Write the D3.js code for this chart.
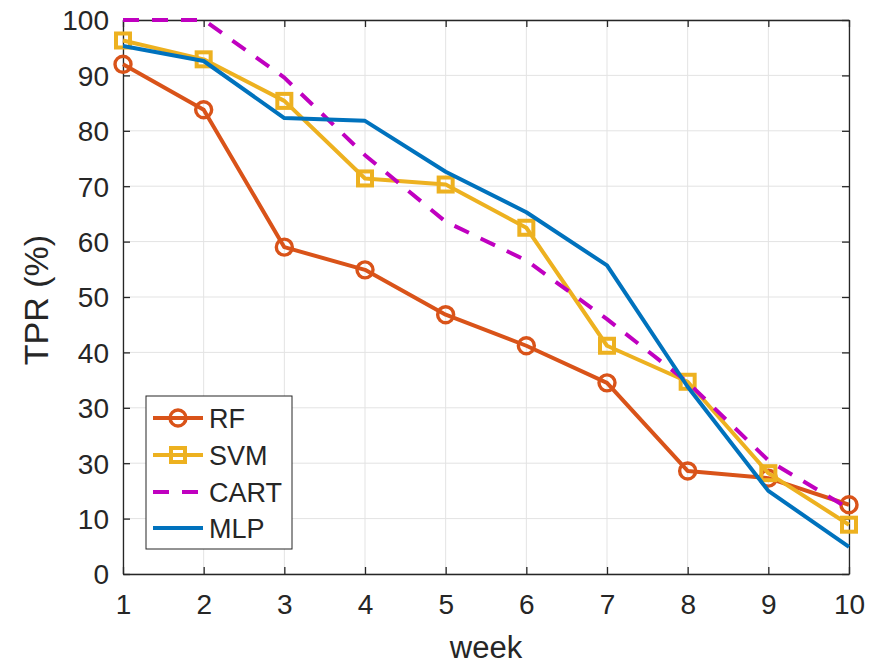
<!DOCTYPE html>
<html>
<head>
<meta charset="utf-8">
<script src="https://cdn.jsdelivr.net/npm/d3@7"></script>
<style>
  html, body { margin: 0; padding: 0; background: #fff; }
  svg { display: block; }
  text { font-family: "Liberation Sans", Arial, sans-serif; fill: #262626; }
</style>
</head>
<body>
<svg id="chart" width="873" height="664"></svg>
<script>
// ---- data ----
const weeks = [1, 2, 3, 4, 5, 6, 7, 8, 9, 10];
const rf   = [92.0, 83.8, 59.0, 54.9, 46.8, 41.2, 34.5, 18.6, 17.3, 12.5];
const svm  = [96.3, 92.9, 85.4, 71.4, 70.3, 62.5, 41.2, 34.7, 18.2, 8.9];
const cart = [100, 100, 89.6, 75.6, 63.6, 56.6, 46.0, 34.6, 20.5, 11.8];
const mlp  = [95.3, 92.6, 82.3, 81.8, 72.6, 65.3, 55.7, 33.8, 15.0, 4.9];
const seriesNames = ["RF", "SVM", "CART", "MLP"];
const seriesColors = ["#D95319", "#EDB120", "#C000C0", "#0072BD"];
const xTickValues = [1, 2, 3, 4, 5, 6, 7, 8, 9, 10];
const xTickLabels = ["1", "2", "3", "4", "5", "6", "7", "8", "9", "10"];
const yTickValues = [0, 10, 20, 30, 40, 50, 60, 70, 80, 90, 100];
const yTickLabels = ["0", "10", "30", "30", "40", "50", "60", "70", "80", "90", "100"];
const xLabel = "week";
const yLabel = "TPR (%)";

(function () {
// ---- layout ----
const svg = d3.select("#chart");
const pl = 123, pr = 849, pt = 20, pb = 574;
const x = d3.scaleLinear().domain([1, 10]).range([pl, pr]);
const y = d3.scaleLinear().domain([0, 100]).range([pb, pt]);
const axisColor = "#262626";

// grid
const grid = svg.append("g");
grid.selectAll("line.vg").data(xTickValues).join("line")
  .attr("x1", d => x(d)).attr("x2", d => x(d))
  .attr("y1", pt).attr("y2", pb)
  .attr("stroke", "#e3e3e3").attr("stroke-width", 1);
grid.selectAll("line.hg").data(yTickValues).join("line")
  .attr("x1", pl).attr("x2", pr)
  .attr("y1", d => y(d)).attr("y2", d => y(d))
  .attr("stroke", "#e3e3e3").attr("stroke-width", 1);

// axes (box with inward ticks)
const tickLen = 7;
const fmtX = (d) => xTickLabels[xTickValues.indexOf(d)];
const fmtY = (d) => yTickLabels[yTickValues.indexOf(d)];

const gx = svg.append("g").attr("transform", `translate(0,${pb})`)
  .call(d3.axisBottom(x).tickValues(xTickValues).tickFormat(fmtX).tickSizeInner(-tickLen).tickSizeOuter(0).tickPadding(20));
const gxTop = svg.append("g").attr("transform", `translate(0,${pt})`)
  .call(d3.axisTop(x).tickValues(xTickValues).tickFormat("").tickSizeInner(-tickLen).tickSizeOuter(0));
const gy = svg.append("g").attr("transform", `translate(${pl},0)`)
  .call(d3.axisLeft(y).tickValues(yTickValues).tickFormat(fmtY).tickSizeInner(-tickLen).tickSizeOuter(0).tickPadding(14));
const gyR = svg.append("g").attr("transform", `translate(${pr},0)`)
  .call(d3.axisRight(y).tickValues(yTickValues).tickFormat("").tickSizeInner(-tickLen).tickSizeOuter(0));

[gx, gxTop, gy, gyR].forEach(g => {
  g.select(".domain").attr("stroke", axisColor).attr("stroke-width", 1.3);
  g.selectAll(".tick line").attr("stroke", axisColor).attr("stroke-width", 1.3);
  g.selectAll(".tick text").attr("font-size", 28).attr("fill", axisColor)
    .style("font-family", "'Liberation Sans', Arial, sans-serif");
});
gx.selectAll(".tick text").attr("dy", "0.71em");
gy.selectAll(".tick text").attr("dy", "0.35em");

// axis labels
svg.append("text").attr("x", (pl + pr) / 2).attr("y", 658)
  .attr("text-anchor", "middle").attr("font-size", 31).text(xLabel);
svg.append("text").attr("transform", `translate(48,${(pt + pb) / 2 + 3}) rotate(-90)`)
  .attr("text-anchor", "middle").attr("font-size", 34).text(yLabel);

// lines
const allSeries = [rf, svm, cart, mlp];
const line = d3.line().x((d, i) => x(weeks[i])).y(d => y(d));
const lw = 4;
const dash = "16,13";

allSeries.forEach((vals, si) => {
  const g = svg.append("g");
  g.append("path").datum(vals).attr("d", line)
    .attr("fill", "none").attr("stroke", seriesColors[si]).attr("stroke-width", lw)
    .attr("stroke-linejoin", "round")
    .attr("stroke-dasharray", si === 2 ? dash : null);
  if (si === 0) {
    g.selectAll("circle").data(vals).join("circle")
      .attr("cx", (d, i) => x(weeks[i])).attr("cy", d => y(d)).attr("r", 8)
      .attr("fill", "none").attr("stroke", seriesColors[si]).attr("stroke-width", 3.4);
  } else if (si === 1) {
    const s = 14;
    g.selectAll("rect").data(vals).join("rect")
      .attr("x", (d, i) => x(weeks[i]) - s / 2).attr("y", d => y(d) - s / 2)
      .attr("width", s).attr("height", s)
      .attr("fill", "none").attr("stroke", seriesColors[si]).attr("stroke-width", 4);
  }
});

// legend
const lg = svg.append("g");
lg.append("rect").attr("x", 146).attr("y", 396).attr("width", 146).attr("height", 153)
  .attr("fill", "#fff").attr("stroke", "#262626").attr("stroke-width", 1);
const rowY = [418, 455, 492, 528];
seriesNames.forEach((name, i) => {
  const cy = rowY[i];
  lg.append("line").attr("x1", 153).attr("x2", 203).attr("y1", cy).attr("y2", cy)
    .attr("stroke", seriesColors[i]).attr("stroke-width", lw)
    .attr("stroke-dasharray", i === 2 ? dash : null);
  if (i === 0) {
    lg.append("circle").attr("cx", 178).attr("cy", cy).attr("r", 8)
      .attr("fill", "none").attr("stroke", seriesColors[i]).attr("stroke-width", 3.4);
  } else if (i === 1) {
    lg.append("rect").attr("x", 178 - 7).attr("y", cy - 7).attr("width", 14).attr("height", 14)
      .attr("fill", "none").attr("stroke", seriesColors[i]).attr("stroke-width", 4);
  }
  lg.append("text").attr("x", 209).attr("y", cy).attr("dy", "0.36em")
    .attr("font-size", 27).attr("fill", "#000").text(name);
});
})();
</script>
</body>
</html>
